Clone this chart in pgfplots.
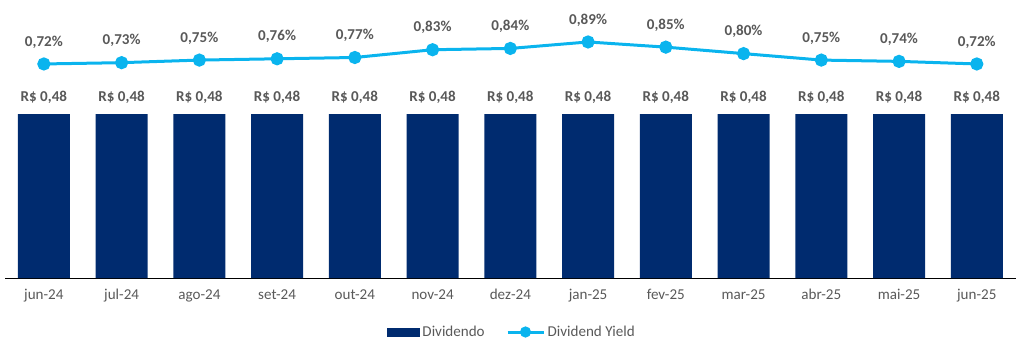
\documentclass[border=0pt]{standalone}
\usepackage{fontspec}
\setmainfont{Carlito}
\usepackage{pgfplots}
\pgfplotsset{compat=1.18}
\definecolor{navy}{HTML}{002B6F}
\definecolor{sky}{HTML}{0AB4EE}
\definecolor{txt}{HTML}{595959}
\pgfplotstableread{
x div dy
0 0.48 0.72
1 0.48 0.73
2 0.48 0.75
3 0.48 0.76
4 0.48 0.77
5 0.48 0.83
6 0.48 0.84
7 0.48 0.89
8 0.48 0.85
9 0.48 0.80
10 0.48 0.75
11 0.48 0.74
12 0.48 0.72
}\datatable
\begin{document}
\begin{tikzpicture}[x=1pt,y=1pt]
\useasboundingbox (-3.75,-48.75) rectangle (764.25,208.5);
\begin{axis}[
  at={(0,0)}, anchor=south west,
  width=758pt, height=201pt, scale only axis,
  xmin=-0.5, xmax=12.5, ymin=0, ymax=0.7844,
  axis y line=none, axis x line*=bottom,
  x axis line style={black, line width=0.75pt},
  xtick={0,...,12},
  xticklabels={jun-24,jul-24,ago-24,set-24,out-24,nov-24,dez-24,jan-25,fev-25,mar-25,abr-25,mai-25,jun-25},
  xtick style={draw=none}, major tick length=0pt,
  xticklabel style={text=txt, font=\fontsize{11.3}{13}\selectfont, yshift=-5pt},
  ytick=\empty,
  clip=false,
]
\addplot[ybar, bar width=39pt, fill=navy, draw=none,
  nodes near coords={R\$ 0,48},
  nodes near coords style={anchor=center, yshift=12.75pt, text=txt, font=\bfseries\fontsize{11.3}{13}\selectfont}]
  table[x=x, y=div] {\datatable};
\end{axis}
\begin{axis}[
  at={(0,0)}, anchor=south west,
  width=758pt, height=201pt, scale only axis,
  xmin=-0.5, xmax=12.5, ymin=-0.934, ymax=1.137,
  axis lines=none, xtick=\empty, ytick=\empty,
  clip=false,
  legend style={at={(0.502,-0.2015)}, anchor=center, draw=none, fill=none,
    legend columns=2, text=txt, font=\fontsize{11.3}{13}\selectfont,
    nodes={inner sep=2pt},
    /tikz/every even column/.append style={column sep=14pt}},
]
\addlegendimage{legend image code/.code={\fill[navy] (0pt,-3pt) rectangle (24pt,3pt);}}
\addlegendentry{Dividendo}
\addplot[sky, line width=2.25pt, mark=*, mark size=3.8pt,
  mark options={fill=sky, draw=none},
  point meta=y,
  nodes near coords={\pgfmathprintnumber[fixed,fixed zerofill,precision=2,use comma,assume math mode=true]{\pgfplotspointmeta}\%},
  nodes near coords style={anchor=center, yshift=16.5pt, text=txt, font=\bfseries\fontsize{11.3}{13}\selectfont},
  legend image code/.code={\draw[sky, line width=2.25pt] (0pt,0pt) -- (27pt,0pt); \fill[sky] (13.5pt,0pt) circle (3pt);}]
  table[x=x, y=dy] {\datatable};
\addlegendentry{Dividend Yield}
\end{axis}
\end{tikzpicture}
\end{document}
